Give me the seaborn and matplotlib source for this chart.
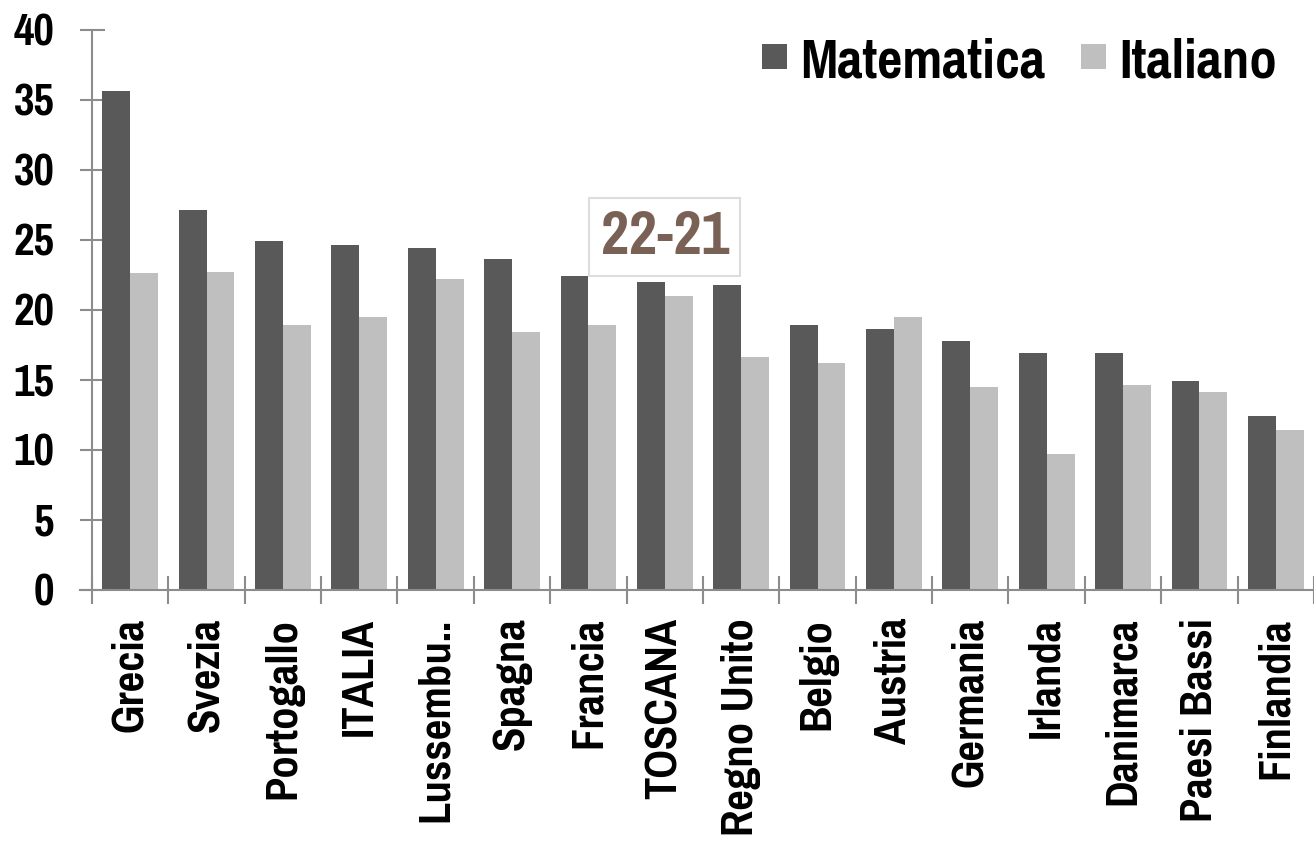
import matplotlib
matplotlib.use("Agg")
import matplotlib.pyplot as plt
import seaborn as sns
import pandas as pd
from matplotlib.ticker import FixedLocator

countries = ["Grecia", "Svezia", "Portogallo", "ITALIA", "Lussembu..", "Spagna",
             "Francia", "TOSCANA", "Regno Unito", "Belgio", "Austria", "Germania",
             "Irlanda", "Danimarca", "Paesi Bassi", "Finlandia"]
matematica = [35.6, 27.1, 24.9, 24.6, 24.4, 23.6, 22.4, 22.0, 21.8, 18.9, 18.6,
              17.8, 16.9, 16.9, 14.9, 12.4]
italiano = [22.6, 22.7, 18.9, 19.5, 22.2, 18.4, 18.9, 21.0, 16.6, 16.2, 19.5,
            14.5, 9.7, 14.6, 14.1, 11.4]
series = ["Matematica", "Italiano"]
palette = {"Matematica": "#595959", "Italiano": "#BFBFBF"}
highlight = "TOSCANA"

sns.set_theme(style="white")
plt.rcParams["font.family"] = ["Pragati Narrow", "Roboto Condensed", "DejaVu Sans"]
plt.rcParams["font.weight"] = "bold"
plt.rcParams["text.color"] = "black"

df = pd.DataFrame({
    "Paese": countries * 2,
    "Serie": [series[0]] * len(countries) + [series[1]] * len(countries),
    "Valore": matematica + italiano,
})

fig = plt.figure(figsize=(13.14, 8.5), dpi=100)
ax = fig.add_axes([0.070, 0.306, 0.93, 0.659])

sns.barplot(data=df, x="Paese", y="Valore", hue="Serie", palette=palette,
            order=countries, hue_order=series, width=0.73, saturation=1,
            edgecolor="none", ax=ax)

n = len(countries)
ax.set_xlim(-0.5, n - 0.5)
ax.set_ylim(0, 40)
ax.set_yticks(range(0, 41, 5))
ax.set_xlabel("")
ax.set_ylabel("")

axis_col = "#8C8C8C"
for side in ("top", "right"):
    ax.spines[side].set_visible(False)
for side in ("left", "bottom"):
    ax.spines[side].set_color(axis_col)
    ax.spines[side].set_linewidth(1.5)
ax.spines["bottom"].set_bounds(-0.66, n - 0.5)

# category labels at centres, tick marks at the group boundaries
ax.xaxis.set_minor_locator(FixedLocator([i - 0.5 for i in range(n + 1)]))
ax.tick_params(axis="x", which="major", bottom=True, length=0, pad=20,
               labelsize=35, labelrotation=90, labelcolor="black")
ax.tick_params(axis="x", which="minor", bottom=True, length=20, width=1.5,
               direction="inout", color=axis_col)
ax.tick_params(axis="y", which="major", left=True, length=18, width=1.5,
               direction="inout", color=axis_col, pad=18, labelsize=35,
               labelcolor="black")
for lab in ax.get_xticklabels() + ax.get_yticklabels():
    lab.set_fontweight("bold")
for lab in ax.get_xticklabels():
    lab.set_va("top")

# annotation above the highlighted region
k = countries.index(highlight)
ax.text(k, 25.2, f"{round(matematica[k])}-{round(italiano[k])}", ha="center",
        va="center", fontsize=48, fontweight="bold", color="#7A6155",
        bbox=dict(boxstyle="square,pad=0.17", facecolor="white",
                  edgecolor="#DDDDDD", linewidth=1.5))

leg = ax.legend(loc="upper right", bbox_to_anchor=(1277 / 1314, 1 - 38 / 850),
                bbox_transform=fig.transFigure, ncol=2, frameon=False,
                fontsize=43, handlelength=0.42, handleheight=0.26,
                handletextpad=0.22, columnspacing=0.6, borderaxespad=0,
                borderpad=0)
for t in leg.get_texts():
    t.set_fontweight("bold")

fig.savefig("out.png", dpi=100)
